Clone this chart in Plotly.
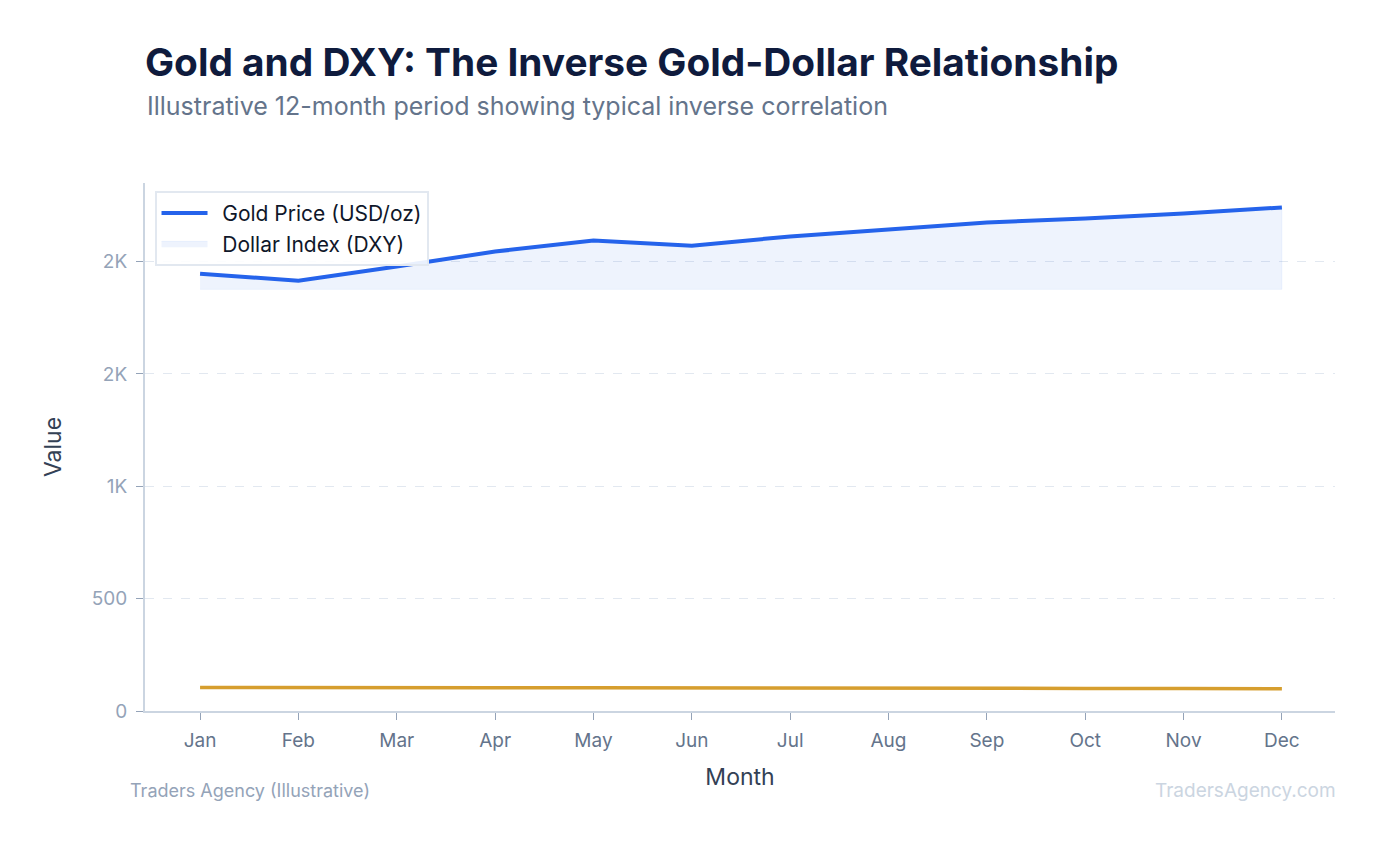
import plotly.graph_objects as go

# gold vs dollar index, illustrative 12 months
months = ["Jan", "Feb", "Mar", "Apr", "May", "Jun", "Jul", "Aug", "Sep", "Oct", "Nov", "Dec"]
gold = [1946, 1915, 1978, 2045, 2094, 2071, 2112, 2143, 2174, 2192, 2214, 2241]
dxy = [105.0, 105.5, 104.5, 103.5, 103.0, 103.2, 102.3, 101.8, 101.0, 100.4, 99.8, 99.0]
y_ticks = [0, 500, 1000, 1500, 2000]
y_labels = ["0", "500", "1K", "2K", "2K"]

BLUE = "#2563EB"
GOLD = "#D69E2E"
FONT = "Inter"
PAD = "\u00a0\u2009"  # nudges legend text right

base = min(gold) * 0.98

fig = go.Figure()

fig.add_trace(go.Scatter(
    x=months + months[::-1],
    y=gold + [base] * len(months),
    fill="toself",
    fillcolor="rgba(37,99,235,0.08)",
    line=dict(color="rgba(37,99,235,0.06)", width=1),
    mode="lines",
    name=PAD + "Dollar Index (DXY)",
    legendrank=2,
    hoverinfo="skip",
))
fig.add_trace(go.Scatter(
    x=months, y=gold, mode="lines",
    line=dict(color=BLUE, width=4),
    name=PAD + "Gold Price (USD/oz)",
    legendrank=1,
))
fig.add_trace(go.Scatter(
    x=months, y=dxy, mode="lines",
    line=dict(color=GOLD, width=3.5),
    name="DXY",
    showlegend=False,
))

fig.update_layout(
    width=1380,
    height=845,
    paper_bgcolor="white",
    plot_bgcolor="white",
    font=dict(family=FONT, color="#334155"),
    margin=dict(l=137, r=53, t=175, b=142),
    title=dict(
        text="<b>Gold and DXY: The Inverse Gold-Dollar Relationship</b>",
        x=137 / 1380, xanchor="left",
        y=1 - 54 / 845, yanchor="middle",
        font=dict(size=38.8, color="#0F1B3D", family=FONT),
    ),
    legend=dict(
        x=0.008, y=0.985, xanchor="left", yanchor="top",
        bgcolor="rgba(255,255,255,0.9)",
        bordercolor="#E2E8F0", borderwidth=2,
        itemwidth=46,
        font=dict(size=21, color="#0F172A", family=FONT),
    ),
    showlegend=True,
)

fig.update_xaxes(
    type="category",
    range=[-0.56, 11.54],
    showgrid=False,
    showline=True, linecolor="#CBD5E1", linewidth=2,
    ticks="outside", ticklen=7, tickcolor="#94A3B8",
    ticklabelstandoff=4,
    tickfont=dict(size=19, color="#64748B"),
    title=dict(text="Month", font=dict(size=23, color="#334155"), standoff=18),
)
fig.update_yaxes(
    range=[0, 2350],
    tickvals=y_ticks, ticktext=y_labels,
    showgrid=True, gridcolor="#E2E8F0", griddash="dash", gridwidth=1,
    zeroline=False,
    showline=True, linecolor="#CBD5E1", linewidth=2,
    ticks="outside", ticklen=7, tickcolor="#94A3B8",
    ticklabelstandoff=5,
    tickfont=dict(size=19, color="#94A3B8"),
    title=dict(text="Value", font=dict(size=23, color="#334155"), standoff=24),
)

fig.add_annotation(
    text="Illustrative 12-month period showing typical inverse correlation",
    xref="paper", yref="paper", x=0, y=(710 - 106) / 527,
    xanchor="left", yanchor="middle", showarrow=False,
    font=dict(size=25, color="#64748B"),
)
fig.add_annotation(
    text="Traders Agency (Illustrative)",
    xref="paper", yref="paper", x=(131 - 145) / 1190, y=(710 - 789) / 527,
    xanchor="left", yanchor="middle", showarrow=False, xshift=-3,
    font=dict(size=18, color="#94A3B8"),
)
fig.add_annotation(
    text="TradersAgency.com",
    xref="paper", yref="paper", x=1, y=(710 - 789) / 527,
    xanchor="right", yanchor="middle", showarrow=False, xshift=3,
    font=dict(size=19, color="#CBD5E1"),
)

fig.write_html("out.html")
